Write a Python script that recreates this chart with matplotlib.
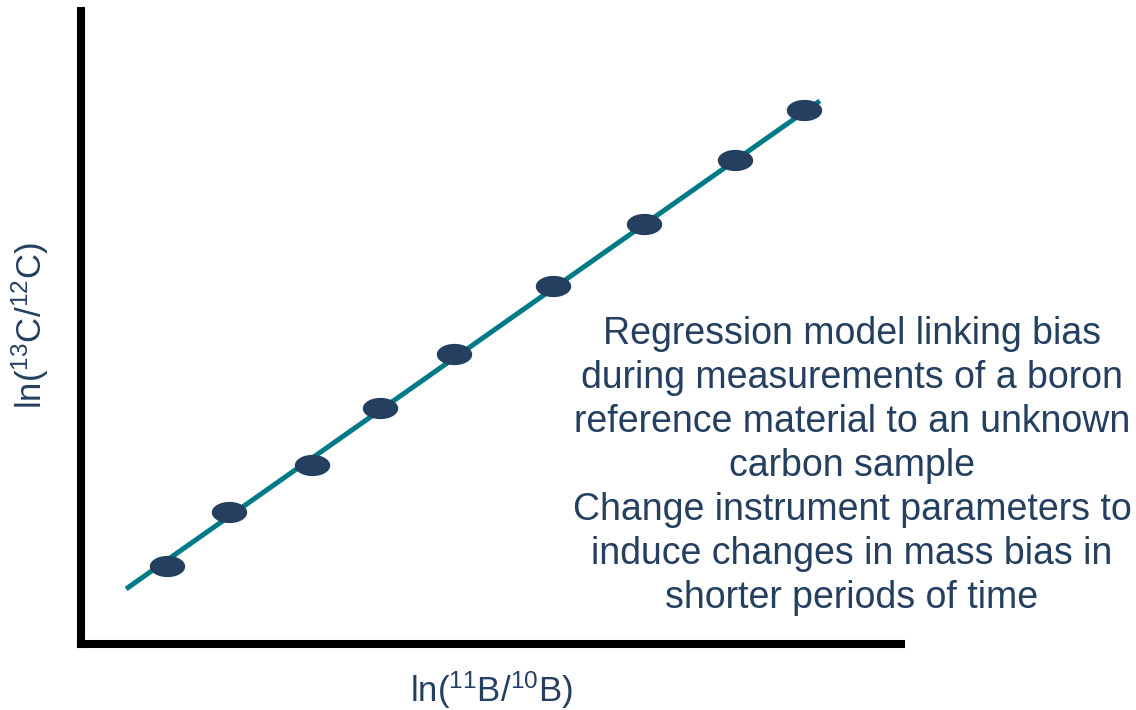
import numpy as np
import matplotlib

matplotlib.use("Agg")

import matplotlib.pyplot as plt

plt.rcParams["font.family"] = ["Liberation Sans", "DejaVu Sans"]
plt.rcParams["mathtext.fontset"] = "custom"
plt.rcParams["mathtext.rm"] = "Liberation Sans"
plt.rcParams["mathtext.it"] = "Liberation Sans"

x_pts = [0.105, 0.180, 0.282, 0.365, 0.455, 0.575, 0.687, 0.797, 0.882]
y_pts = [0.124, 0.209, 0.283, 0.373, 0.458, 0.565, 0.663, 0.765, 0.844]

# regression line end points
x_fit = [0.055, 0.901]
y_fit = [0.087, 0.858]

xlabel = r"ln($^{11}$B/$^{10}$B)"
ylabel = r"ln($^{13}$C/$^{12}$C)"
note = (
    "Regression model linking bias\n"
    "during measurements of a boron\n"
    "reference material to an unknown\n"
    "carbon sample\n"
    "Change instrument parameters to\n"
    "induce changes in mass bias in\n"
    "shorter periods of time"
)

navy = "#243F60"
teal = "#007A87"

fig = plt.figure(figsize=(11.36, 7.1), dpi=100)
ax = fig.add_axes([81 / 1136, 66 / 710, (901 - 81) / 1136, (644 - 11) / 710])
ax.set_xlim(0, 1)
ax.set_ylim(0, 1)

ax.plot(x_fit, y_fit, color=teal, linewidth=3.6, solid_capstyle="butt", zorder=2)

t = np.linspace(0, 2 * np.pi, 80)
ellipse = np.column_stack([np.cos(t), 0.6 * np.sin(t)])
ax.scatter(x_pts, y_pts, marker=ellipse, s=25.5 ** 2, color=navy,
           linewidths=0, zorder=3)

for side in ("top", "right"):
    ax.spines[side].set_visible(False)
for side in ("left", "bottom"):
    ax.spines[side].set_linewidth(5.8)
    ax.spines[side].set_color("black")
ax.set_xticks([])
ax.set_yticks([])

fig.text(491 / 1136, 1 - 690 / 710, xlabel, ha="center", va="center",
         fontsize=25, color=navy)
fig.text(30 / 1136, 1 - 326 / 710, ylabel, ha="center", va="center",
         fontsize=25, color=navy, rotation=90)
fig.text(852 / 1136, 1 - 466 / 710, note, ha="center", va="center",
         multialignment="center", fontsize=27, color=navy, linespacing=1.28)

fig.savefig("out.png", dpi=100)
